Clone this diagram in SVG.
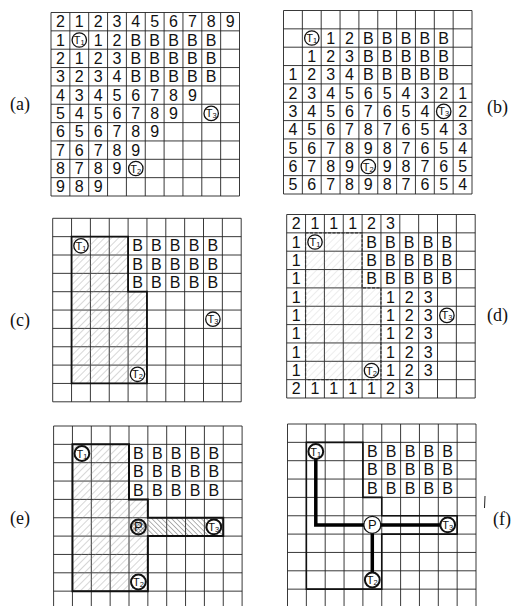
<svg xmlns="http://www.w3.org/2000/svg" xmlns:xlink="http://www.w3.org/1999/xlink" width="515" height="606" viewBox="0 0 515 606">
<style>
.gl{fill:none;stroke:#222;stroke-width:0.9}
.n text{font-family:'Liberation Sans',Arial,sans-serif;font-size:16px;text-anchor:middle;dominant-baseline:central;fill:#111}
.node circle{fill:#fff;stroke:#111;stroke-width:1.3}
.node.b circle{stroke-width:2}
.node text{font-family:'Liberation Sans',Arial,sans-serif;font-size:11px;text-anchor:middle;dominant-baseline:central;fill:#111}
.node tspan{font-size:7.5px}
.node text.p{font-size:13px}
.lbl{font-family:'Liberation Serif','Times New Roman',serif;font-size:18px;fill:#111}
.reg{fill:url(#hA);stroke:#111;stroke-width:1.8}
.regd{fill:url(#hA);fill-opacity:0.45;stroke:#333;stroke-width:1.2;stroke-dasharray:3 1.5}
.regf{fill:none;stroke:#111;stroke-width:1.6}
.wire{fill:none;stroke:#000;stroke-width:3.5}
</style>
<defs>
<pattern id="hA" width="5" height="5" patternUnits="userSpaceOnUse" patternTransform="rotate(45)"><line x1="0" y1="0" x2="0" y2="5" stroke="#8a8a8a" stroke-width="0.7"/></pattern>
<pattern id="hB" width="3.5" height="3.5" patternUnits="userSpaceOnUse" patternTransform="rotate(-45)"><line x1="0" y1="0" x2="0" y2="3.5" stroke="#444" stroke-width="0.8"/></pattern>
<pattern id="hX" width="3" height="3" patternUnits="userSpaceOnUse" patternTransform="rotate(45)"><path d="M0 0V3M0 0H3" stroke="#333" stroke-width="0.8"/></pattern>
<g id="grid" class="gl"><path d="M0 0V183.5M18.85 0V183.5M37.7 0V183.5M56.55 0V183.5M75.4 0V183.5M94.25 0V183.5M113.1 0V183.5M131.95 0V183.5M150.8 0V183.5M169.65 0V183.5M188.5 0V183.5M0 0H188.5M0 18.35H188.5M0 36.7H188.5M0 55.05H188.5M0 73.4H188.5M0 91.75H188.5M0 110.1H188.5M0 128.45H188.5M0 146.8H188.5M0 165.15H188.5M0 183.5H188.5"/></g>
<g id="bblock" class="n"><text x="84.8" y="27.5">B</text><text x="103.7" y="27.5">B</text><text x="122.5" y="27.5">B</text><text x="141.4" y="27.5">B</text><text x="160.2" y="27.5">B</text><text x="84.8" y="45.9">B</text><text x="103.7" y="45.9">B</text><text x="122.5" y="45.9">B</text><text x="141.4" y="45.9">B</text><text x="160.2" y="45.9">B</text><text x="84.8" y="64.2">B</text><text x="103.7" y="64.2">B</text><text x="122.5" y="64.2">B</text><text x="141.4" y="64.2">B</text><text x="160.2" y="64.2">B</text></g>
</defs>

<!-- Panel (a) -->
<g id="panel-a" transform="translate(51,12.5)">
<use xlink:href="#grid"/>
<use xlink:href="#bblock"/>
<g class="n">
<text x="9.4" y="9.2">2</text><text x="28.3" y="9.2">1</text><text x="47.1" y="9.2">2</text><text x="66" y="9.2">3</text><text x="84.8" y="9.2">4</text><text x="103.7" y="9.2">5</text><text x="122.5" y="9.2">6</text><text x="141.4" y="9.2">7</text><text x="160.2" y="9.2">8</text><text x="179.1" y="9.2">9</text>
<text x="9.4" y="27.5">1</text><text x="47.1" y="27.5">1</text><text x="66" y="27.5">2</text>
<text x="9.4" y="45.9">2</text><text x="28.3" y="45.9">1</text><text x="47.1" y="45.9">2</text><text x="66" y="45.9">3</text>
<text x="9.4" y="64.2">3</text><text x="28.3" y="64.2">2</text><text x="47.1" y="64.2">3</text><text x="66" y="64.2">4</text>
<text x="9.4" y="82.6">4</text><text x="28.3" y="82.6">3</text><text x="47.1" y="82.6">4</text><text x="66" y="82.6">5</text><text x="84.8" y="82.6">6</text><text x="103.7" y="82.6">7</text><text x="122.5" y="82.6">8</text><text x="141.4" y="82.6">9</text>
<text x="9.4" y="100.9">5</text><text x="28.3" y="100.9">4</text><text x="47.1" y="100.9">5</text><text x="66" y="100.9">6</text><text x="84.8" y="100.9">7</text><text x="103.7" y="100.9">8</text><text x="122.5" y="100.9">9</text>
<text x="9.4" y="119.3">6</text><text x="28.3" y="119.3">5</text><text x="47.1" y="119.3">6</text><text x="66" y="119.3">7</text><text x="84.8" y="119.3">8</text><text x="103.7" y="119.3">9</text>
<text x="9.4" y="137.6">7</text><text x="28.3" y="137.6">6</text><text x="47.1" y="137.6">7</text><text x="66" y="137.6">8</text><text x="84.8" y="137.6">9</text>
<text x="9.4" y="156">8</text><text x="28.3" y="156">7</text><text x="47.1" y="156">8</text><text x="66" y="156">9</text>
<text x="9.4" y="174.3">9</text><text x="28.3" y="174.3">8</text><text x="47.1" y="174.3">9</text>
</g>
<g id="a-T1" class="node"><circle cx="28.3" cy="27.5" r="7.2"/><text x="28.3" y="27.5">T<tspan dy="2">1</tspan></text></g>
<g id="a-T3" class="node"><circle cx="160.2" cy="100.9" r="7.2"/><text x="160.2" y="100.9">T<tspan dy="2">3</tspan></text></g>
<g id="a-T2" class="node"><circle cx="84.8" cy="156" r="7.2"/><text x="84.8" y="156">T<tspan dy="2">2</tspan></text></g>
</g>

<!-- Panel (b) -->
<g id="panel-b" transform="translate(283.5,10.5)">
<use xlink:href="#grid"/>
<use xlink:href="#bblock"/>
<g class="n">
<text x="47.1" y="27.5">1</text><text x="66" y="27.5">2</text>
<text x="28.3" y="45.9">1</text><text x="47.1" y="45.9">2</text><text x="66" y="45.9">3</text>
<text x="9.4" y="64.2">1</text><text x="28.3" y="64.2">2</text><text x="47.1" y="64.2">3</text><text x="66" y="64.2">4</text>
<text x="9.4" y="82.6">2</text><text x="28.3" y="82.6">3</text><text x="47.1" y="82.6">4</text><text x="66" y="82.6">5</text><text x="84.8" y="82.6">6</text><text x="103.7" y="82.6">5</text><text x="122.5" y="82.6">4</text><text x="141.4" y="82.6">3</text><text x="160.2" y="82.6">2</text><text x="179.1" y="82.6">1</text>
<text x="9.4" y="100.9">3</text><text x="28.3" y="100.9">4</text><text x="47.1" y="100.9">5</text><text x="66" y="100.9">6</text><text x="84.8" y="100.9">7</text><text x="103.7" y="100.9">6</text><text x="122.5" y="100.9">5</text><text x="141.4" y="100.9">4</text><text x="179.1" y="100.9">2</text>
<text x="9.4" y="119.3">4</text><text x="28.3" y="119.3">5</text><text x="47.1" y="119.3">6</text><text x="66" y="119.3">7</text><text x="84.8" y="119.3">8</text><text x="103.7" y="119.3">7</text><text x="122.5" y="119.3">6</text><text x="141.4" y="119.3">5</text><text x="160.2" y="119.3">4</text><text x="179.1" y="119.3">3</text>
<text x="9.4" y="137.6">5</text><text x="28.3" y="137.6">6</text><text x="47.1" y="137.6">7</text><text x="66" y="137.6">8</text><text x="84.8" y="137.6">9</text><text x="103.7" y="137.6">8</text><text x="122.5" y="137.6">7</text><text x="141.4" y="137.6">6</text><text x="160.2" y="137.6">5</text><text x="179.1" y="137.6">4</text>
<text x="9.4" y="156">6</text><text x="28.3" y="156">7</text><text x="47.1" y="156">8</text><text x="66" y="156">9</text><text x="103.7" y="156">9</text><text x="122.5" y="156">8</text><text x="141.4" y="156">7</text><text x="160.2" y="156">6</text><text x="179.1" y="156">5</text>
<text x="9.4" y="174.3">5</text><text x="28.3" y="174.3">6</text><text x="47.1" y="174.3">7</text><text x="66" y="174.3">8</text><text x="84.8" y="174.3">9</text><text x="103.7" y="174.3">8</text><text x="122.5" y="174.3">7</text><text x="141.4" y="174.3">6</text><text x="160.2" y="174.3">5</text><text x="179.1" y="174.3">4</text>
</g>
<g id="b-T1" class="node"><circle cx="28.3" cy="27.5" r="7.2"/><text x="28.3" y="27.5">T<tspan dy="2">1</tspan></text></g>
<g id="b-T3" class="node"><circle cx="160.2" cy="100.9" r="7.2"/><text x="160.2" y="100.9">T<tspan dy="2">3</tspan></text></g>
<g id="b-T2" class="node"><circle cx="84.8" cy="156" r="7.2"/><text x="84.8" y="156">T<tspan dy="2">2</tspan></text></g>
</g>

<!-- Panel (c) -->
<g id="panel-c" transform="translate(52.7,218.3)">
<use xlink:href="#grid"/>
<path class="reg" d="M18.85 18.35H75.4V73.4H94.25V165.15H18.85Z"/>
<use xlink:href="#bblock"/>
<g id="c-T1" class="node"><circle cx="28.3" cy="27.5" r="7.2"/><text x="28.3" y="27.5">T<tspan dy="2">1</tspan></text></g>
<g id="c-T3" class="node"><circle cx="160.2" cy="100.9" r="7.2"/><text x="160.2" y="100.9">T<tspan dy="2">3</tspan></text></g>
<g id="c-T2" class="node"><circle cx="84.8" cy="156" r="7.2"/><text x="84.8" y="156">T<tspan dy="2">2</tspan></text></g>
</g>

<!-- Panel (d) -->
<g id="panel-d" transform="translate(286.7,214.5)">
<use xlink:href="#grid"/>
<path class="regd" d="M18.85 18.35H75.4V73.4H94.25V165.15H18.85Z"/>
<use xlink:href="#bblock"/>
<g class="n">
<text x="9.4" y="9.2">2</text><text x="28.3" y="9.2">1</text><text x="47.1" y="9.2">1</text><text x="66" y="9.2">1</text><text x="84.8" y="9.2">2</text><text x="103.7" y="9.2">3</text>
<text x="9.4" y="27.5">1</text>
<text x="9.4" y="45.9">1</text>
<text x="9.4" y="64.2">1</text>
<text x="9.4" y="82.6">1</text><text x="103.7" y="82.6">1</text><text x="122.5" y="82.6">2</text><text x="141.4" y="82.6">3</text>
<text x="9.4" y="100.9">1</text><text x="103.7" y="100.9">1</text><text x="122.5" y="100.9">2</text><text x="141.4" y="100.9">3</text>
<text x="9.4" y="119.3">1</text><text x="103.7" y="119.3">1</text><text x="122.5" y="119.3">2</text><text x="141.4" y="119.3">3</text>
<text x="9.4" y="137.6">1</text><text x="103.7" y="137.6">1</text><text x="122.5" y="137.6">2</text><text x="141.4" y="137.6">3</text>
<text x="9.4" y="156">1</text><text x="103.7" y="156">1</text><text x="122.5" y="156">2</text><text x="141.4" y="156">3</text>
<text x="9.4" y="174.3">2</text><text x="28.3" y="174.3">1</text><text x="47.1" y="174.3">1</text><text x="66" y="174.3">1</text><text x="84.8" y="174.3">1</text><text x="103.7" y="174.3">2</text><text x="122.5" y="174.3">3</text>
</g>
<g id="d-T1" class="node"><circle cx="28.3" cy="27.5" r="7.2"/><text x="28.3" y="27.5">T<tspan dy="2">1</tspan></text></g>
<g id="d-T3" class="node"><circle cx="160.2" cy="100.9" r="7.2"/><text x="160.2" y="100.9">T<tspan dy="2">3</tspan></text></g>
<g id="d-T2" class="node"><circle cx="84.8" cy="156" r="7.2"/><text x="84.8" y="156">T<tspan dy="2">2</tspan></text></g>
</g>

<!-- Panel (e) -->
<g id="panel-e" transform="translate(53.6,426)">
<use xlink:href="#grid"/>
<path d="M18.85 18.35H75.4V73.4H94.25V165.15H18.85Z" fill="url(#hA)"/>
<rect x="94.25" y="91.75" width="75.4" height="18.35" fill="url(#hB)"/>
<path class="regf" style="stroke-width:2" d="M18.85 18.35H75.4V73.4H94.25V91.75H169.65V110.1H94.25V165.15H18.85Z"/>
<use xlink:href="#bblock"/>
<g id="e-T1" class="node b"><circle cx="28.3" cy="27.5" r="7.4"/><text x="28.3" y="27.5">T<tspan dy="2">1</tspan></text></g>
<g id="e-P" class="node b"><circle cx="84.8" cy="100.9" r="7.5" style="fill:url(#hX)"/><text class="p" x="84.8" y="100.9">P</text></g>
<g id="e-T3" class="node b"><circle cx="160.2" cy="100.9" r="7.4"/><text x="160.2" y="100.9">T<tspan dy="2">3</tspan></text></g>
<g id="e-T2" class="node b"><circle cx="84.8" cy="156" r="7.4"/><text x="84.8" y="156">T<tspan dy="2">2</tspan></text></g>
</g>

<!-- Panel (f) -->
<g id="panel-f" transform="translate(287.5,424)">
<use xlink:href="#grid"/>
<path class="regf" d="M18.85 18.35H75.4V73.4H94.25V91.75H169.65V110.1H94.25V165.15H18.85Z"/>
<use xlink:href="#bblock"/>
<g id="connectors">
<path class="wire" d="M28.3 27.5V100.9H84.8"/>
<path class="wire" d="M84.8 100.9H160.2"/>
<path class="wire" d="M84.8 100.9V156"/>
</g>
<g id="f-T1" class="node b"><circle cx="28.3" cy="27.5" r="7.4"/><text x="28.3" y="27.5">T<tspan dy="2">1</tspan></text></g>
<g id="f-P" class="node"><circle cx="84.8" cy="100.9" r="8.5"/><text class="p" x="84.8" y="100.9">P</text></g>
<g id="f-T3" class="node b"><circle cx="160.2" cy="100.9" r="7.4"/><text x="160.2" y="100.9">T<tspan dy="2">3</tspan></text></g>
<g id="f-T2" class="node b"><circle cx="84.8" cy="156" r="7.4"/><text x="84.8" y="156">T<tspan dy="2">2</tspan></text></g>
</g>
<line x1="485" y1="496" x2="484.5" y2="508" stroke="#222" stroke-width="1"/>

<!-- Labels -->
<text class="lbl" x="10" y="110">(a)</text>
<text class="lbl" x="487" y="113">(b)</text>
<text class="lbl" x="10" y="326">(c)</text>
<text class="lbl" x="487" y="321">(d)</text>
<text class="lbl" x="10" y="524">(e)</text>
<text class="lbl" x="493" y="525">(f)</text>
</svg>
